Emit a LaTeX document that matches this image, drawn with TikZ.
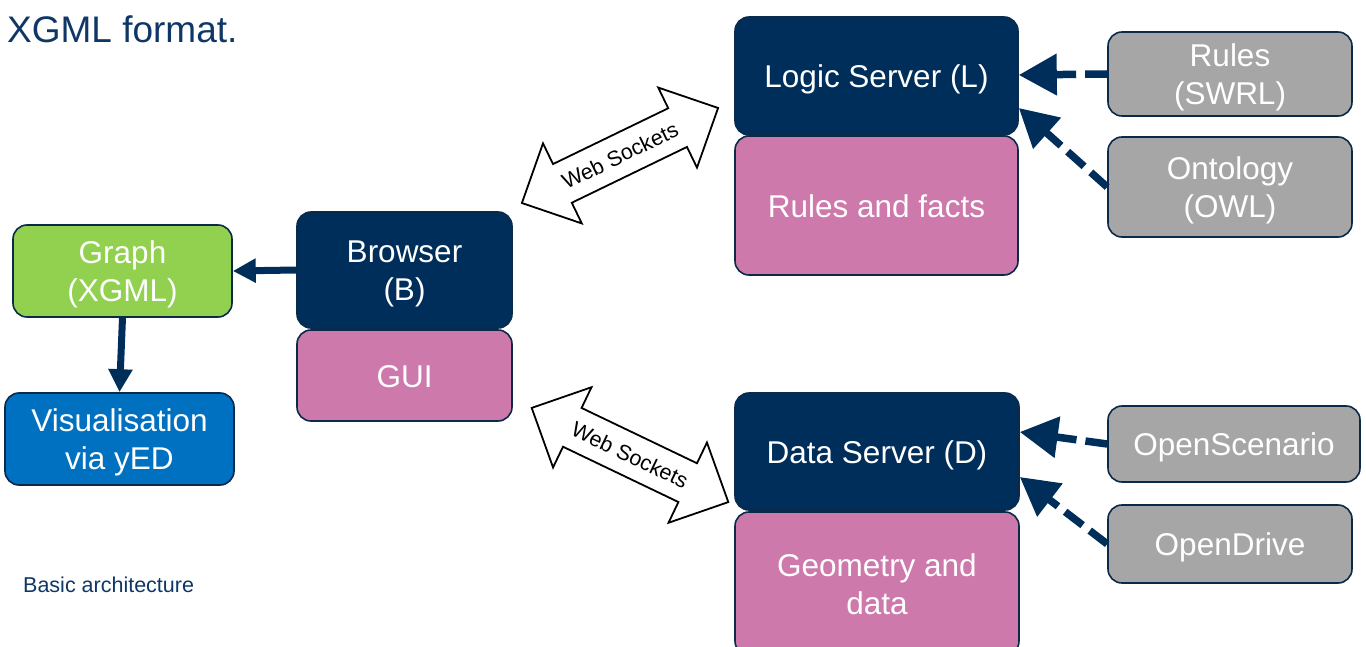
\documentclass[tikz,border=0pt]{standalone}
\usepackage{fontspec}
\setmainfont{Liberation Sans}
\usetikzlibrary{arrows.meta}

\definecolor{navy}{HTML}{002E5A}
\definecolor{edgenavy}{HTML}{0B2A4A}
\definecolor{pinkbox}{HTML}{CD79AB}
\definecolor{greenbox}{HTML}{92D050}
\definecolor{bluebox}{HTML}{0070C0}
\definecolor{graybox}{HTML}{A6A6A6}
\definecolor{titleblue}{HTML}{0E3766}

% box text: stacked lines, set a little below the box centre
\newcommand{\boxtext}[1]{%
  \raisebox{0pt}[\dimexpr\height+8pt\relax]{\begin{tabular}{@{}c@{}}#1\end{tabular}}}

\tikzset{
  box/.style={draw=edgenavy, line width=1.6pt, rounded corners=14pt,
    text=white, inner sep=0pt,
    font=\fontsize{31.5}{38}\selectfont},
  server/.style={box, fill=navy},
  store/.style={box, fill=pinkbox},
  source/.style={box, fill=graybox},
  flow/.style={draw=navy, line width=7pt, -{Triangle[length=23pt,width=23pt]}},
  feed/.style={draw=navy, line width=7.5pt, dash pattern=on 22pt off 9pt,
    -{Triangle[length=38pt,width=40pt]}},
  socket/.style={draw=black, fill=white, line width=1.8pt, line join=miter},
  socketlabel/.style={font=\fontsize{21.5}{26}\selectfont, inner sep=0pt},
}

\newcommand{\wsarrow}{%
  (-109pt,0pt) -- (-64pt,44.5pt) -- (-64pt,21.5pt) -- (64pt,21.5pt) --
  (64pt,44.5pt) -- (109pt,0pt) -- (64pt,-44.5pt) -- (64pt,-21.5pt) --
  (-64pt,-21.5pt) -- (-64pt,-44.5pt) -- cycle}

\begin{document}
\begin{tikzpicture}[x=1pt, y=-1pt]
  \useasboundingbox (0,0) rectangle (1366,647);

  % headings
  \node[anchor=base west, inner sep=0pt, text=titleblue,
        font=\fontsize{37}{44}\selectfont] (title) at (7,43) {XGML format.};
  \node[anchor=base west, inner sep=0pt, text=titleblue,
        font=\fontsize{21.5}{26}\selectfont] (caption) at (23,592) {Basic architecture};

  % logic server stack
  \node[server, minimum width=283pt, minimum height=118pt] (logic) at (876.5,76) {\boxtext{Logic Server (L)}};
  \node[store, minimum width=283pt, minimum height=139pt] (facts) at (876.5,205.5) {\boxtext{Rules and facts}};
  \node[source, minimum width=244pt, minimum height=80pt] (swrl) at (1230,74) {\boxtext{Rules\\(SWRL)}};
  \node[source, minimum width=244pt, minimum height=100pt] (owl) at (1230,187) {\boxtext{Ontology\\(OWL)}};

  % browser stack
  \node[server, minimum width=215pt, minimum height=116pt] (browser) at (404.5,270) {\boxtext{Browser\\(B)}};
  \node[store, minimum width=215pt, minimum height=91pt] (gui) at (404.5,375.5) {\boxtext{GUI}};

  % graph output
  \node[box, fill=greenbox, minimum width=219pt, minimum height=92pt] (graph) at (122.5,271) {\boxtext{Graph\\(XGML)}};
  \node[box, fill=bluebox, minimum width=229pt, minimum height=92pt] (vis) at (119.5,439) {\boxtext{Visualisation\\via yED}};

  % data server stack
  \node[server, minimum width=284pt, minimum height=117pt] (data) at (877,451.5) {\boxtext{Data Server (D)}};
  \node[store, minimum width=284pt, minimum height=143pt] (geom) at (877,583.5) {\boxtext{Geometry and\\data}};
  \node[source, minimum width=252pt, minimum height=76pt] (opsc) at (1234,444) {\boxtext{OpenScenario}};
  \node[source, minimum width=244pt, minimum height=78pt] (opdr) at (1230,544) {\boxtext{OpenDrive}};

  % browser output
  \draw[flow] (browser.west) -- (graph.east);
  \draw[flow] (graph.south) -- (vis.north);

  % inputs to the servers
  \draw[feed] (swrl.west) -- ([yshift=1pt]logic.east);
  \draw[feed] (owl.west) -- ([yshift=-32pt]logic.east);
  \draw[feed] (opsc.west) -- ([yshift=19.5pt]data.east);
  \draw[feed] (opdr.west) -- ([yshift=-25.5pt]data.east);

  % web socket links
  \draw[socket, shift={(620,155.5)}, rotate=25.85] \wsarrow;
  \node[socketlabel, rotate=25.85] (ws1) at (620,155.5) {Web Sockets};
  \draw[socket, shift={(630,455)}, rotate=-25.6] \wsarrow;
  \node[socketlabel, rotate=-25.6] (ws2) at (630,455) {Web Sockets};
\end{tikzpicture}
\end{document}
